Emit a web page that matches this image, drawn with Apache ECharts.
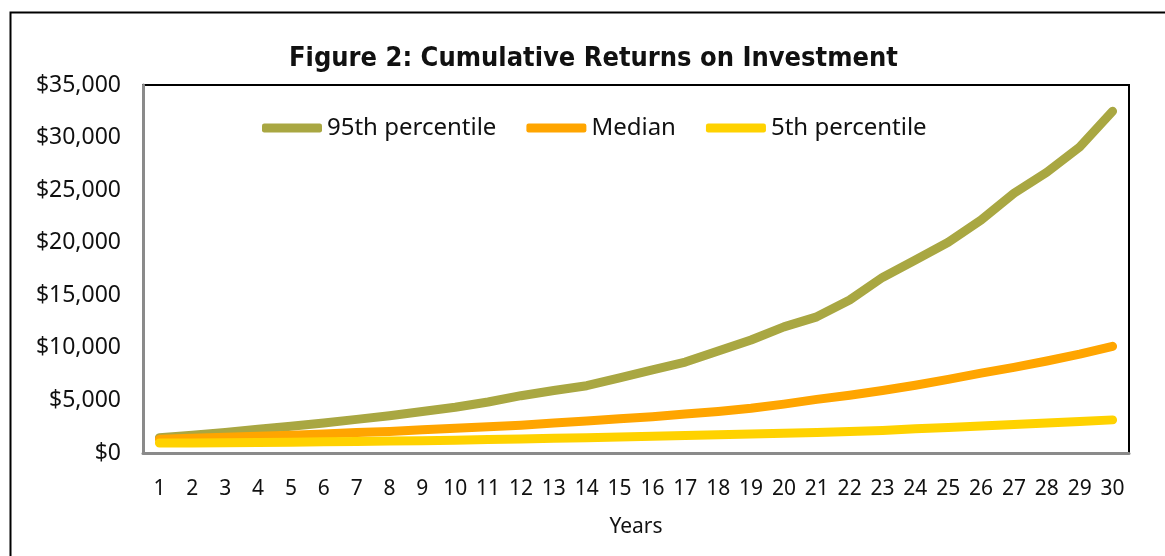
<!DOCTYPE html>
<html>
<head>
<meta charset="utf-8">
<script src="https://cdn.jsdelivr.net/npm/echarts@6/dist/echarts.min.js"></script>
<style>
  html, body { margin: 0; padding: 0; background: #fff; }
  #chart { width: 1165px; height: 556px; }
</style>
</head>
<body>
<div id="chart"></div>
<script>
const years = ['1','2','3','4','5','6','7','8','9','10','11','12','13','14','15','16','17','18','19','20','21','22','23','24','25','26','27','28','29','30'];
const p95 = [1450,1700,1950,2250,2550,2850,3200,3550,3950,4350,4850,5450,5950,6400,7150,7900,8650,9700,10750,12000,12950,14550,16700,18350,20050,22150,24700,26700,29100,32500];
const median = [1300,1400,1500,1600,1700,1800,1950,2050,2200,2350,2500,2650,2850,3050,3250,3450,3700,3950,4250,4650,5100,5500,5950,6450,7000,7600,8150,8750,9400,10150];
const p5 = [950,960,980,1000,1030,1060,1100,1130,1170,1220,1280,1340,1400,1460,1530,1600,1660,1730,1800,1870,1950,2050,2150,2300,2420,2560,2720,2850,2990,3150];
const seriesNames = ['95th percentile', 'Median', '5th percentile'];
const colors = ['#A9A742', '#FFA500', '#FFD200'];
const titleText = 'Figure 2: Cumulative Returns on Investment';
const xName = 'Years';

const chart = echarts.init(document.getElementById('chart'));
const font = 'Noto Sans';
function lineSeries(name, data, color) {
  return {
    name: name, type: 'line', data: data, showSymbol: false, symbol: 'none',
    lineStyle: { color: color, width: 9, cap: 'round', join: 'round' },
    itemStyle: { color: color }
  };
}
chart.setOption({
  animation: false,
  title: {
    text: titleText, left: 284, top: 40,
    textStyle: { fontFamily: '"DejaVu Sans Condensed", "Roboto Condensed", Roboto, sans-serif', fontWeight: 'bold', fontSize: 27, color: '#111' }
  },
  legend: {
    left: 262, top: 116, padding: 0, itemWidth: 60, itemHeight: 9, itemGap: 30,
    icon: 'roundRect',
    textStyle: { fontFamily: font, fontSize: 24, color: '#111' },
    data: seriesNames
  },
  graphic: [{
    type: 'rect', left: 8, top: 10, silent: true,
    shape: { width: 1200, height: 600 },
    style: { fill: 'none', stroke: '#000', lineWidth: 2 }
  }],
  grid: { left: 143, right: 36, top: 85, bottom: 103, show: true, borderColor: '#000', borderWidth: 2, backgroundColor: '#fff' },
  xAxis: {
    type: 'category', data: years, boundaryGap: true,
    name: xName, nameLocation: 'middle', nameGap: 64,
    nameTextStyle: { fontFamily: font, fontSize: 21, color: '#111' },
    axisLine: { show: true, lineStyle: { color: '#8a8a8a', width: 3 } },
    axisTick: { show: false },
    axisLabel: { fontFamily: font, fontSize: 21, color: '#111', margin: 26, interval: 0 },
    splitLine: { show: false }
  },
  yAxis: {
    type: 'value', min: 0, max: 35000, interval: 5000,
    axisLine: { show: true, lineStyle: { color: '#8a8a8a', width: 3 } },
    axisTick: { show: false },
    splitLine: { show: false },
    axisLabel: {
      fontFamily: font, fontSize: 23, color: '#111', margin: 22,
      formatter: function (v) { return '$' + v.toLocaleString('en-US'); }
    }
  },
  series: [
    lineSeries(seriesNames[0], p95, colors[0]),
    lineSeries(seriesNames[1], median, colors[1]),
    lineSeries(seriesNames[2], p5, colors[2])
  ]
});
</script>
</body>
</html>
